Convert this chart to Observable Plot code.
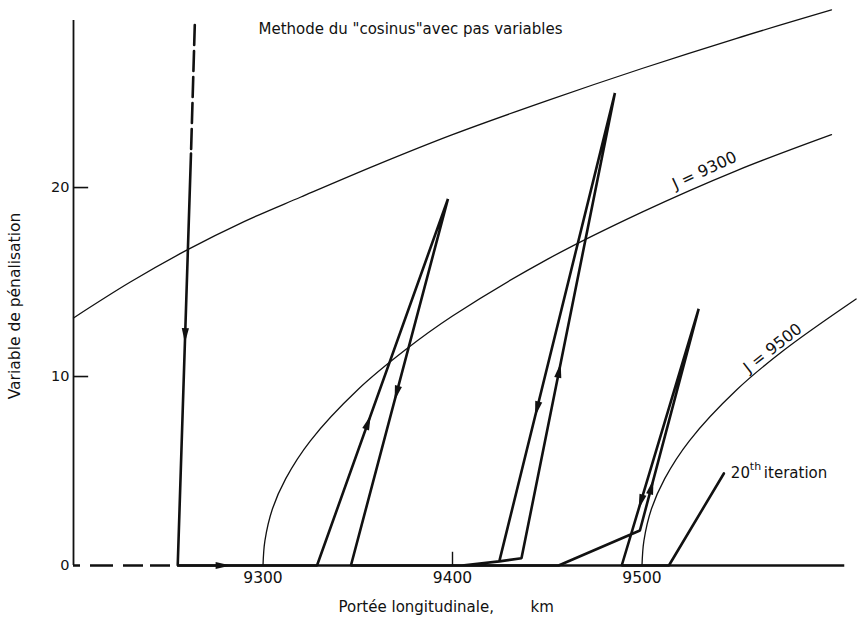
<!DOCTYPE html>
<html>
<head>
<meta charset="utf-8">
<script src="https://cdn.jsdelivr.net/npm/d3@7"></script>
<script src="https://cdn.jsdelivr.net/npm/@observablehq/plot@0.6"></script>
<style>
  body { margin: 0; background: #fff; }
  svg { display: block; }
</style>
</head>
<body>
<div id="chart"></div>
<script>
// Axis ticks
const xTicks = [9300, 9400, 9500];
const yTicks = [0, 10, 20];

// Successive iterates (range km, penalty variable); the first leg comes from above the frame
const pathX = [9264, 9262, 9255, 9328.5, 9397.6, 9346.4, 9405, 9424.7, 9436.4, 9485.7, 9424.7, 9405, 9456, 9498.9, 9529.9, 9489.3, 9514.2, 9543.2];
const pathY = [28.6, 21.8, 0, 0, 19.4, 0, 0, 0.22, 0.38, 25.0, 0.22, 0, 0, 1.85, 13.58, 0, 0, 4.87];

// Direction arrows: segment index along the path and position within it
const arrowSeg = [1, 2, 3, 4, 8, 9, 13, 14];
const arrowT = [0.46, 0.38, 0.41, 0.55, 0.42, 0.69, 0.23, 0.78];

// Iso-J curves
const jTopX = [9200, 9230, 9260, 9290, 9320, 9360, 9400, 9450, 9500, 9550, 9600];
const jTopY = [13.1, 15.0, 16.7, 18.2, 19.5, 21.2, 22.8, 24.6, 26.3, 27.9, 29.4];
const j9300X = [9300, 9301, 9305, 9312, 9325, 9350, 9375, 9400, 9450, 9500, 9550, 9600];
const j9300Y = [0, 1.3, 3.0, 4.6, 6.6, 9.3, 11.4, 13.2, 16.2, 18.7, 20.9, 22.8];
const j9500X = [9500, 9501, 9505, 9512, 9525, 9550, 9575, 9613];
const j9500Y = [0, 1.3, 3.0, 4.6, 6.6, 9.3, 11.4, 14.1];

const W = 857, H = 619, mL = 73, mR = 26, mT = 20, mB = 54;
const xDomain = [9200, 9600], yDomain = [0, 28.84];
const kx = (W - mL - mR) / (xDomain[1] - xDomain[0]);
const ky = (H - mT - mB) / (yDomain[1] - yDomain[0]);

const pts = pathX.map((x, i) => ({x, y: pathY[i]}));
const toRows = (xs, ys) => xs.map((x, i) => ({x, y: ys[i]}));

const arrows = arrowSeg.map((s, i) => {
  const a = pts[s], b = pts[s + 1], t = arrowT[i];
  return {
    x: a.x + (b.x - a.x) * t,
    y: a.y + (b.y - a.y) * t,
    angle: Math.atan2((b.x - a.x) * kx, (b.y - a.y) * ky) * 180 / Math.PI
  };
});

// Narrow filled arrowhead with its tip at the anchor, pointing up before rotation
const head = {
  draw(ctx) {
    ctx.moveTo(0, 0);
    ctx.lineTo(3.6, 15);
    ctx.lineTo(-3.6, 15);
    ctx.closePath();
  }
};

const font = "DejaVu Sans, sans-serif";
const ink = "#111";

const plot = Plot.plot({
  width: W,
  height: H,
  marginLeft: mL,
  marginRight: mR,
  marginTop: mT,
  marginBottom: mB,
  style: {fontFamily: font, background: "#fff", color: ink},
  x: {domain: xDomain},
  y: {domain: yDomain},
  marks: [
    // vertical axis line and inward ticks
    Plot.ruleX([xDomain[0]], {y1: 0, y2: yDomain[1], stroke: ink, strokeWidth: 1.8}),
    Plot.ruleY(yTicks.filter(d => d > 0), {x1: xDomain[0], x2: xDomain[0] + 8, stroke: ink, strokeWidth: 1.6}),
    Plot.ruleX([xTicks[1]], {y1: 0, y2: 0.7, stroke: ink, strokeWidth: 1.4}),
    // horizontal axis: dashed at left, solid from the first iterate onwards
    Plot.ruleY([0], {x1: xDomain[0], x2: pathX[2], stroke: ink, strokeWidth: 2.4, strokeDasharray: "7,10,23,10,20,7,20,7"}),
    Plot.ruleY([0], {x1: pathX[2], x2: 9607, stroke: ink, strokeWidth: 2.4}),
    Plot.axisX({ticks: xTicks, tickSize: 0, tickPadding: 6, fontSize: 15.5, label: null, tickFormat: d => String(d)}),
    Plot.axisY({ticks: yTicks, tickSize: 0, tickPadding: 4, fontSize: 14.5, label: null}),
    // iso-J curves
    Plot.line(toRows(jTopX, jTopY), {x: "x", y: "y", curve: "catmull-rom", stroke: ink, strokeWidth: 1.3}),
    Plot.line(toRows(j9300X, j9300Y), {x: "x", y: "y", curve: "catmull-rom", stroke: ink, strokeWidth: 1.3}),
    Plot.line(toRows(j9500X, j9500Y), {x: "x", y: "y", curve: "catmull-rom", stroke: ink, strokeWidth: 1.3}),
    // iteration path
    Plot.line(pts.slice(0, 2), {x: "x", y: "y", stroke: ink, strokeWidth: 2.6, strokeDasharray: "20,6"}),
    Plot.line(pts.slice(1), {x: "x", y: "y", stroke: ink, strokeWidth: 2.6, strokeLinejoin: "miter"}),
    Plot.dot(arrows, {x: "x", y: "y", rotate: "angle", symbol: head, fill: ink, stroke: null}),
    // labels
    Plot.text(["J = 9300"], {x: 9533, y: 20.9, rotate: -25, fontSize: 16, fill: ink}),
    Plot.text(["J = 9500"], {x: 9569, y: 11.5, rotate: -38, fontSize: 16, fill: ink}),
    Plot.text(["20"], {x: pathX[17], y: pathY[17], dx: 7, textAnchor: "start", fontSize: 15, fill: ink}),
    Plot.text(["th"], {x: pathX[17], y: pathY[17], dx: 26, dy: -7, textAnchor: "start", fontSize: 11, fill: ink}),
    Plot.text(["iteration"], {x: pathX[17], y: pathY[17], dx: 40, textAnchor: "start", fontSize: 15, fill: ink}),
    Plot.text(['Methode du "cosinus"avec pas variables'], {frameAnchor: "top-left", dx: 185, dy: 3, fontSize: 15, fill: ink}),
    Plot.text(["Portée longitudinale,"], {frameAnchor: "bottom-left", dx: 265, dy: 42, lineAnchor: "middle", fontSize: 15, fill: ink}),
    Plot.text(["km"], {frameAnchor: "bottom-left", dx: 457, dy: 42, lineAnchor: "middle", fontSize: 15, fill: ink}),
    Plot.text(["Variable de pénalisation"], {frameAnchor: "left", dx: -58, dy: 13, rotate: -90, textAnchor: "middle", fontSize: 15.5, fill: ink})
  ]
});

document.getElementById("chart").appendChild(plot);
</script>
</body>
</html>
